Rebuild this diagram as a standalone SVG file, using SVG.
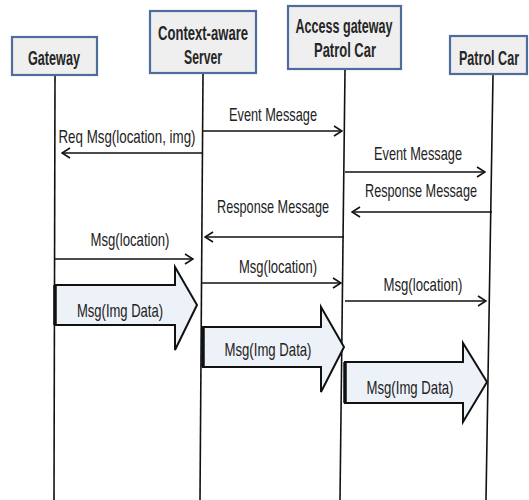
<svg xmlns="http://www.w3.org/2000/svg" width="529" height="500" viewBox="0 0 529 500">
<style>
.box{fill:#efefef;stroke:#4e6d9c;stroke-width:2.2}
.bt{font-family:"Liberation Sans",Arial,sans-serif;font-weight:bold;font-size:20px;fill:#262626;text-anchor:middle}
.life{stroke:#111;stroke-width:1.6;fill:none}
.msg{stroke:#111;stroke-width:1.6;fill:none}
.mt{font-family:"Liberation Sans",Arial,sans-serif;font-size:18.5px;fill:#222;text-anchor:middle}
.blk{fill:#edf1f8;stroke:#111;stroke-width:2;stroke-linejoin:miter}
</style>
<defs>
<marker id="ah" viewBox="0 0 10 12" refX="9" refY="6" markerWidth="10" markerHeight="12" markerUnits="userSpaceOnUse" orient="auto">
<polyline points="1,1 9,6 1,11" fill="none" stroke="#111" stroke-width="1.6"/>
</marker>
</defs>
<g id="connectors">
<line class="life" x1="55" y1="76" x2="54" y2="500"/>
<line class="life" x1="203" y1="74" x2="200" y2="500"/>
<line class="life" x1="345" y1="70" x2="340" y2="500"/>
<line class="life" x1="493" y1="75" x2="486" y2="500"/>
<line class="msg" x1="203" y1="131" x2="342" y2="131" marker-end="url(#ah)"/>
<text class="mt" x="273" y="121" textLength="88" lengthAdjust="spacingAndGlyphs">Event Message</text>
<line class="msg" x1="203" y1="153" x2="62" y2="153" marker-end="url(#ah)"/>
<text class="mt" x="127" y="143" textLength="137" lengthAdjust="spacingAndGlyphs">Req Msg(location, img)</text>
<line class="msg" x1="345" y1="172" x2="485" y2="172" marker-end="url(#ah)"/>
<text class="mt" x="418" y="160" textLength="88" lengthAdjust="spacingAndGlyphs">Event Message</text>
<line class="msg" x1="492" y1="212" x2="352" y2="212" marker-end="url(#ah)"/>
<text class="mt" x="421" y="197" textLength="112" lengthAdjust="spacingAndGlyphs">Response Message</text>
<line class="msg" x1="344" y1="237" x2="205" y2="237" marker-end="url(#ah)"/>
<text class="mt" x="273" y="213" textLength="112" lengthAdjust="spacingAndGlyphs">Response Message</text>
<line class="msg" x1="55" y1="259" x2="193" y2="259" marker-end="url(#ah)"/>
<text class="mt" x="130" y="246" textLength="79" lengthAdjust="spacingAndGlyphs">Msg(location)</text>
<line class="msg" x1="202" y1="283" x2="341" y2="283" marker-end="url(#ah)"/>
<text class="mt" x="278" y="273" textLength="78" lengthAdjust="spacingAndGlyphs">Msg(location)</text>
<line class="msg" x1="345" y1="301" x2="486" y2="301" marker-end="url(#ah)"/>
<text class="mt" x="423" y="291" textLength="79" lengthAdjust="spacingAndGlyphs">Msg(location)</text>
<polygon class="blk" points="55,285 175,285 175,267 197,305 175,350 175,325 55,325"/>
<line x1="55" y1="285" x2="55" y2="325" stroke="#111" stroke-width="3.5"/>
<text class="mt" x="120" y="317" textLength="86" lengthAdjust="spacingAndGlyphs">Msg(Img Data)</text>
<polygon class="blk" points="203,327 321,327 321,307 344,347 321,392 321,367 203,367"/>
<line x1="203" y1="327" x2="203" y2="367" stroke="#111" stroke-width="3.5"/>
<text class="mt" x="268" y="356" textLength="87" lengthAdjust="spacingAndGlyphs">Msg(Img Data)</text>
<polygon class="blk" points="345,362 463,362 463,343 487,382 463,422 463,403 345,403"/>
<line x1="345" y1="362" x2="345" y2="403" stroke="#111" stroke-width="3.5"/>
<text class="mt" x="410" y="394" textLength="87" lengthAdjust="spacingAndGlyphs">Msg(Img Data)</text>
</g>
<g id="gateway">
<rect class="box" x="12" y="37" width="85" height="38"/>
<text class="bt" x="54" y="65" textLength="52" lengthAdjust="spacingAndGlyphs">Gateway</text>
</g>
<g id="server">
<rect class="box" x="150" y="11" width="106" height="62"/>
<text class="bt" x="203" y="40" textLength="90" lengthAdjust="spacingAndGlyphs">Context-aware</text>
<text class="bt" x="203" y="64" textLength="38" lengthAdjust="spacingAndGlyphs">Server</text>
</g>
<g id="access">
<rect class="box" x="288" y="6" width="113" height="63"/>
<text class="bt" x="344" y="33" textLength="97" lengthAdjust="spacingAndGlyphs">Access gateway</text>
<text class="bt" x="345" y="57" textLength="62" lengthAdjust="spacingAndGlyphs">Patrol Car</text>
</g>
<g id="patrol">
<rect class="box" x="450" y="36" width="77" height="38"/>
<text class="bt" transform="translate(489,65) scale(0.63,1)" x="0" y="0">Patrol Car</text>
</g>
</svg>
